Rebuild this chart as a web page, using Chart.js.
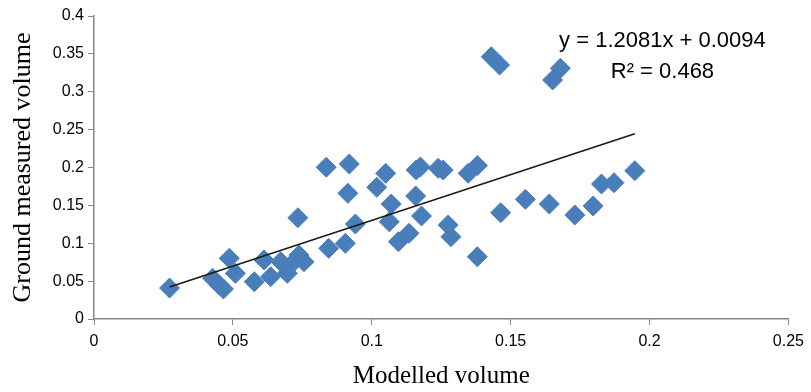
<!DOCTYPE html>
<html>
<head>
<meta charset="utf-8">
<script src="https://cdn.jsdelivr.net/npm/chart.js@4"></script>
<style>
  html, body { margin: 0; padding: 0; background: #ffffff; }
  #wrap { width: 811px; height: 392px; }
</style>
</head>
<body>
<div id="wrap"><canvas id="myChart" width="811" height="392"></canvas></div>
<script>
// Modelled volume (x) and ground measured volume (y)
var modelled = [0.0272, 0.0427, 0.0451, 0.0466, 0.0487, 0.0509, 0.0577, 0.0612, 0.0636, 0.0672,
                0.0696, 0.0708, 0.0738, 0.0756, 0.0734, 0.0836, 0.0845, 0.0905, 0.0914, 0.0919,
                0.0941, 0.1018, 0.1050, 0.1063, 0.1070, 0.1096, 0.1134, 0.1158, 0.1160, 0.1175,
                0.1179, 0.1239, 0.1257, 0.1275, 0.1285, 0.1347, 0.1380, 0.1380, 0.1430, 0.1460,
                0.1464, 0.1553, 0.1639, 0.1651, 0.1679, 0.1731, 0.1797, 0.1827, 0.1872, 0.1947];
var measured = [0.0409, 0.0537, 0.0449, 0.0396, 0.0801, 0.0603, 0.0492, 0.0779, 0.0558, 0.0756,
                0.0603, 0.0713, 0.0845, 0.0756, 0.1337, 0.2003, 0.0933, 0.0999, 0.1659, 0.2046,
                0.1254, 0.1739, 0.1923, 0.1284, 0.1518, 0.1020, 0.1131, 0.1624, 0.1967, 0.2007,
                0.1360, 0.1989, 0.1967, 0.1241, 0.1086, 0.1923, 0.2026, 0.0822, 0.3463, 0.3353,
                0.1403, 0.1580, 0.1518, 0.3155, 0.3310, 0.1373, 0.1492, 0.1782, 0.1799, 0.1958];

// Linear trend line from the chart
var slope = 1.2081;
var intercept = 0.0094;
var equationLabel = 'y = 1.2081x + 0.0094';
var r2Label = 'R\u00B2 = 0.468';

var xTicks = [0, 0.05, 0.1, 0.15, 0.2, 0.25];
var yTicks = [0, 0.05, 0.1, 0.15, 0.2, 0.25, 0.3, 0.35, 0.4];

var points = modelled.map(function (x, i) { return { x: x, y: measured[i] }; });
var xMin = Math.min.apply(null, modelled);
var xMax = Math.max.apply(null, modelled);
var trend = [
    { x: xMin, y: slope * xMin + intercept },
    { x: xMax, y: slope * xMax + intercept }
];

var axisColor = '#868686';

// Excel style labels: 0.1 not 0.10
function tickText(value) {
    return String(+value.toFixed(2));
}

// Writes the trend line equation in the top right
var equationPlugin = {
    id: 'equation',
    afterDraw: function (chart) {
        var ctx = chart.ctx;
        var area = chart.chartArea;
        ctx.save();
        ctx.fillStyle = '#000000';
        ctx.font = '22px "Liberation Sans", Arial, sans-serif';
        ctx.textAlign = 'center';
        ctx.textBaseline = 'middle';
        ctx.fillText(equationLabel, area.right - 126, area.top + 25);
        ctx.fillText(r2Label, area.right - 126, area.top + 56);
        ctx.restore();
    }
};

var ctx = document.getElementById('myChart').getContext('2d');
var myChart = new Chart(ctx, {
    type: 'scatter',
    data: {
        datasets: [{
            type: 'line',
            label: 'Linear trend',
            data: trend,
            borderColor: '#1a1a1a',
            borderWidth: 1.6,
            pointRadius: 0,
            fill: false,
            order: 0
        },
        {
            label: 'Volume',
            data: points,
            pointStyle: 'rectRot',
            pointRadius: 10,
            pointHoverRadius: 10,
            backgroundColor: '#4A7EBB',
            borderColor: '#4A7EBB',
            borderWidth: 1,
            order: 1
        }]
    },
    options: {
        responsive: false,
        animation: false,
        events: [],
        layout: { padding: { top: 16, right: 19, left: 0, bottom: 0 } },
        plugins: {
            legend: { display: false },
            tooltip: { enabled: false }
        },
        scales: {
            x: {
                type: 'linear',
                min: 0,
                max: 0.25,
                afterFit: function (scale) { scale.height = 73; },
                afterBuildTicks: function (scale) {
                    scale.ticks = xTicks.map(function (v) { return { value: v }; });
                },
                grid: { drawOnChartArea: false, drawTicks: true, tickLength: 6, color: axisColor },
                border: { display: true, color: axisColor, width: 1.5 },
                ticks: {
                    color: '#000000',
                    padding: 7,
                    callback: tickText,
                    font: { family: '"Liberation Sans", Arial, sans-serif', size: 16 }
                },
                title: {
                    display: true,
                    text: 'Modelled volume',
                    color: '#000000',
                    padding: { top: 0, bottom: 1 },
                    font: { family: '"Liberation Serif", "Times New Roman", serif', size: 25 }
                }
            },
            y: {
                type: 'linear',
                min: 0,
                max: 0.4,
                afterFit: function (scale) { scale.width = 94; },
                afterBuildTicks: function (scale) {
                    scale.ticks = yTicks.map(function (v) { return { value: v }; });
                },
                grid: { drawOnChartArea: false, drawTicks: true, tickLength: 6, color: axisColor },
                border: { display: true, color: axisColor, width: 1.5 },
                ticks: {
                    color: '#000000',
                    padding: 4,
                    callback: tickText,
                    font: { family: '"Liberation Sans", Arial, sans-serif', size: 16 }
                },
                title: {
                    display: true,
                    text: 'Ground measured volume',
                    color: '#000000',
                    padding: { top: 8, bottom: 0 },
                    font: { family: '"Liberation Serif", "Times New Roman", serif', size: 26 }
                }
            }
        }
    },
    plugins: [equationPlugin]
});
</script>
</body>
</html>
